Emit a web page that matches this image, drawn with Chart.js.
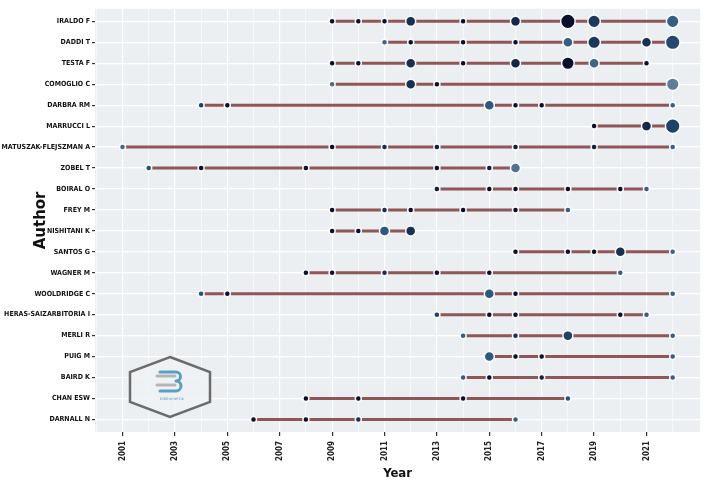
<!DOCTYPE html>
<html>
<head>
<meta charset="utf-8">
<script src="https://cdn.jsdelivr.net/npm/chart.js@4.4.0/dist/chart.umd.min.js"></script>
<style>
  html, body { margin: 0; padding: 0; background: #fff; }
  #wrap { width: 709px; height: 482px; }
</style>
</head>
<body>
<div id="wrap"><canvas id="chart"></canvas></div>
<script>
// top authors' production over time
const authors = [
  'IRALDO F', 'DADDI T', 'TESTA F', 'COMOGLIO C', 'DARBRA RM', 'MARRUCCI L',
  'MATUSZAK-FLEJSZMAN A', 'ZOBEL T', 'BOIRAL O', 'FREY M', 'NISHITANI K',
  'SANTOS G', 'WAGNER M', 'WOOLDRIDGE C', 'HERAS-SAIZARBITORIA I', 'MERLI R',
  'PUIG M', 'BAIRD K', 'CHAN ESW', 'DARNALL N'
];

const years = [
  [2009, 2010, 2011, 2012, 2014, 2016, 2018, 2019, 2022],
  [2011, 2012, 2014, 2016, 2018, 2019, 2021, 2022],
  [2009, 2010, 2012, 2014, 2016, 2018, 2019, 2021],
  [2009, 2012, 2013, 2022],
  [2004, 2005, 2015, 2016, 2017, 2022],
  [2019, 2021, 2022],
  [2001, 2009, 2011, 2013, 2016, 2019, 2022],
  [2002, 2004, 2008, 2013, 2015, 2016],
  [2013, 2015, 2016, 2018, 2020, 2021],
  [2009, 2011, 2012, 2014, 2016, 2018],
  [2009, 2010, 2011, 2012],
  [2016, 2018, 2019, 2020, 2022],
  [2008, 2009, 2011, 2013, 2015, 2020],
  [2004, 2005, 2015, 2016, 2022],
  [2013, 2015, 2016, 2020, 2021],
  [2014, 2016, 2018, 2022],
  [2015, 2016, 2017, 2022],
  [2014, 2015, 2017, 2022],
  [2008, 2010, 2014, 2018],
  [2006, 2008, 2010, 2016]
];

// number of articles per year (point size)
const articles = [
  [1, 1, 1, 2, 1, 2, 4, 3, 3],
  [1, 1, 1, 1, 2, 3, 2, 4],
  [1, 1, 2, 1, 2, 3, 2, 1],
  [1, 2, 1, 3],
  [1, 1, 2, 1, 1, 1],
  [1, 2, 4],
  [1, 1, 1, 1, 1, 1, 1],
  [1, 1, 1, 1, 1, 2],
  [1, 1, 1, 1, 1, 1],
  [1, 1, 1, 1, 1, 1],
  [1, 1, 2, 2],
  [1, 1, 1, 2, 1],
  [1, 1, 1, 1, 1, 1],
  [1, 1, 2, 1, 1],
  [1, 1, 1, 1, 1],
  [1, 1, 2, 1],
  [2, 1, 1, 1],
  [1, 1, 1, 1],
  [1, 1, 1, 1],
  [1, 1, 1, 1]
];

// citations per year (point darkness)
const tcPerYear = [
  [10, 10, 10, 8, 10, 8.5, 10, 7.5, 5],
  [4.5, 10, 10, 10, 5, 7.5, 8, 6.5],
  [10, 10, 8, 10, 8.5, 10, 4.5, 10],
  [4, 8, 10, 2.5],
  [7, 10, 5.5, 10, 10, 5],
  [10, 8.5, 7],
  [4, 10, 8, 9, 9, 9, 4.5],
  [6, 10, 10, 10, 9, 3.5],
  [9, 10, 10, 10, 10, 5],
  [10, 8, 10, 10, 10, 5],
  [10, 10, 5.5, 8],
  [10, 10, 10, 8, 4.5],
  [10, 10, 8, 10, 10, 5],
  [6, 10, 5.5, 10, 5],
  [7, 10, 10, 10, 5],
  [5, 8, 7, 5],
  [5.5, 10, 10, 5],
  [5, 10, 9, 5],
  [10, 10, 10, 6],
  [10, 10, 8, 5]
];

const yearTicks = [2001, 2003, 2005, 2007, 2009, 2011, 2013, 2015, 2017, 2019, 2021];
const minorYears = [2000, 2002, 2004, 2006, 2008, 2010, 2012, 2014, 2016, 2018, 2020, 2022];

const sizeFor = n => [0, 3, 5, 6.3, 7.3][n];

function colourFor(tc) {
  const t = tc / 10;
  const light = [135, 158, 178], mid = [38, 82, 122], dark = [8, 16, 45];
  let a, b, k;
  if (t < 0.6) { a = light; b = mid; k = t / 0.6; }
  else { a = mid; b = dark; k = (t - 0.6) / 0.4; }
  const c = a.map((v, i) => Math.round(v + (b[i] - v) * k));
  return 'rgb(' + c.join(',') + ')';
}

const lineSets = authors.map((a, i) => ({
  label: a,
  data: years[i].map(y => ({ x: y, y: i })),
  showLine: true,
  borderColor: 'rgba(125, 58, 58, 0.85)',
  borderWidth: 3,
  pointRadius: 0,
  order: 2
}));

const pointData = [];
authors.forEach((a, i) => {
  years[i].forEach((y, j) => {
    pointData.push({ x: y, y: i, n: articles[i][j], tc: tcPerYear[i][j] });
  });
});

const panelBg = {
  id: 'panelBg',
  beforeDraw(chart) {
    const { ctx, chartArea: ca } = chart;
    ctx.save();
    ctx.fillStyle = '#ECEFF1';
    ctx.fillRect(ca.left, ca.top, ca.right - ca.left, ca.bottom - ca.top);
    ctx.restore();
  }
};

// bibliometrix watermark
const logo = {
  id: 'logo',
  beforeDatasetsDraw(chart) {
    const ctx = chart.ctx;
    const cx = 170, cy = 387, w = 40, h = 30;
    ctx.save();
    ctx.beginPath();
    ctx.moveTo(cx, cy - h);
    ctx.lineTo(cx + w, cy - h / 2);
    ctx.lineTo(cx + w, cy + h / 2);
    ctx.lineTo(cx, cy + h);
    ctx.lineTo(cx - w, cy + h / 2);
    ctx.lineTo(cx - w, cy - h / 2);
    ctx.closePath();
    ctx.fillStyle = 'rgba(240,242,244,0.9)';
    ctx.fill();
    ctx.strokeStyle = '#6b6b6b';
    ctx.lineWidth = 2.5;
    ctx.stroke();
    // the "B"
    ctx.lineCap = 'round';
    ctx.strokeStyle = '#b5b5b5';
    ctx.lineWidth = 3;
    ctx.beginPath();
    ctx.moveTo(157, 376); ctx.lineTo(175, 376);
    ctx.moveTo(157, 385); ctx.lineTo(175, 385);
    ctx.stroke();
    ctx.strokeStyle = '#5b9ec4';
    ctx.lineWidth = 3;
    ctx.beginPath();
    ctx.moveTo(160, 372); ctx.lineTo(176, 372);
    ctx.arc(176, 376.5, 4.5, -Math.PI / 2, Math.PI / 2);
    ctx.moveTo(176, 381);
    ctx.arc(176, 386, 5, -Math.PI / 2, Math.PI / 2);
    ctx.lineTo(160, 391);
    ctx.stroke();
    ctx.fillStyle = '#6fa0c0';
    ctx.font = '4px "DejaVu Sans"';
    ctx.textAlign = 'center';
    ctx.fillText('bibliometrix', 172, 400);
    ctx.restore();
  }
};

const tickFont = { family: '"DejaVu Sans Condensed", "DejaVu Sans"', weight: 'bold' };

new Chart(document.getElementById('chart'), {
  type: 'scatter',
  data: {
    datasets: [
      {
        label: 'articles',
        data: pointData,
        pointRadius: ctx => sizeFor(ctx.raw.n),
        pointBackgroundColor: ctx => colourFor(ctx.raw.tc),
        pointBorderColor: 'rgba(255,255,255,0.95)',
        pointBorderWidth: 1.5,
        order: 1
      },
      ...lineSets
    ]
  },
  options: {
    responsive: true,
    maintainAspectRatio: false,
    animation: false,
    layout: { padding: { top: 3, right: 6, left: 0, bottom: 0 } },
    plugins: {
      legend: { display: false },
      tooltip: { enabled: false }
    },
    scales: {
      x: {
        type: 'linear',
        min: 1999.95,
        max: 2023.05,
        afterBuildTicks: s => {
          s.ticks = [...yearTicks, ...minorYears].sort((a, b) => a - b).map(v => ({ value: v }));
        },
        afterFit: s => { s.height = 50; },
        border: { display: false },
        grid: {
          color: '#ffffff',
          lineWidth: ctx => yearTicks.includes(ctx.tick.value) ? 1.2 : 0.6,
          tickColor: ctx => yearTicks.includes(ctx.tick.value) ? '#333' : 'rgba(0,0,0,0)',
          tickLength: 4
        },
        ticks: {
          autoSkip: false,
          maxRotation: 90,
          minRotation: 90,
          padding: 5,
          color: '#222',
          font: { ...tickFont, size: 8 },
          callback: v => yearTicks.includes(v) ? String(v) : ''
        },
        title: {
          display: true,
          text: 'Year',
          color: '#111',
          font: { family: '"DejaVu Sans Condensed", "DejaVu Sans"', weight: 'bold', size: 13 },
          padding: { top: 0, bottom: 1 }
        }
      },
      y: {
        type: 'linear',
        reverse: true,
        min: -0.6,
        max: 19.6,
        afterBuildTicks: s => {
          s.ticks = authors.map((a, i) => ({ value: i }));
        },
        afterFit: s => { s.width = 95; },
        border: { display: false },
        grid: {
          color: '#ffffff',
          lineWidth: 1.2,
          tickColor: '#333',
          tickLength: 3
        },
        ticks: {
          autoSkip: false,
          padding: 2,
          color: '#111',
          font: { ...tickFont, size: 7 },
          callback: v => authors[v]
        },
        title: {
          display: true,
          text: 'Author',
          color: '#111',
          font: { family: '"DejaVu Sans"', weight: 'bold', size: 15 },
          padding: { top: 32, bottom: 0 }
        }
      }
    }
  },
  plugins: [panelBg, logo]
});
</script>
</body>
</html>
